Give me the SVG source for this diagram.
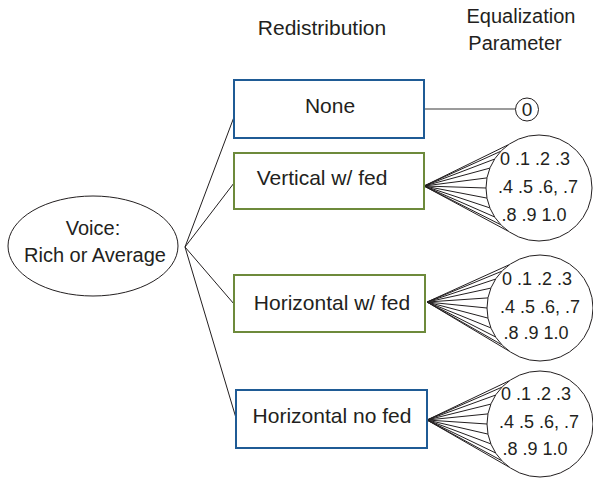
<svg xmlns="http://www.w3.org/2000/svg" width="593" height="479" viewBox="0 0 593 479">
<style>
text{font-family:"Liberation Sans",Arial,sans-serif;fill:#231f20}
.hdr{font-size:21px}
.hdr2{font-size:20px;text-anchor:middle}
.lbl{font-size:21px;text-anchor:middle}
.val{font-size:18px;text-anchor:middle}
.blue{fill:#fff;stroke:#1f5b95;stroke-width:2}
.green{fill:#fff;stroke:#6d8a3b;stroke-width:2}
.circ{fill:#fff;stroke:#231f20;stroke-width:1}
.ln{stroke:#231f20;stroke-width:1;fill:none}
.gray{stroke:#7a7a7a;stroke-width:1.5;fill:none}
</style>
<g id="headers">
<text class="hdr" x="322" y="35" text-anchor="middle">Redistribution</text>
<text class="hdr2" x="521" y="23">Equalization</text>
<text class="hdr2" x="515" y="50">Parameter</text>
</g>
<g id="connectors">
<path class="ln" d="M185,247 L234,117 M185,247 L234,183 M185,247 L234,304 M185,247 L236,418"/>
<path class="gray" d="M425,109 L516,109"/>
<path class="ln" d="M424,186 L508.6,144.6 M424,186 L500.9,151.2 M424,186 L494.5,159.1 M424,186 L489.9,168.1 M424,186 L487,177.9 M424,186 L486,188 M424,186 L487,198.1 M424,186 L489.9,207.9 M424,186 L494.5,216.9 M424,186 L500.9,224.8 M424,186 L508.6,231.4"/>
<path class="ln" d="M427,302 L509.6,264.6 M427,302 L501.9,271.2 M427,302 L495.5,279.1 M427,302 L490.9,288.1 M427,302 L488,297.9 M427,302 L487,308 M427,302 L488,318.1 M427,302 L490.9,327.9 M427,302 L495.5,336.9 M427,302 L501.9,344.8 M427,302 L509.6,351.4"/>
<path class="ln" d="M427,420 L509.6,380.6 M427,420 L501.9,387.2 M427,420 L495.5,395.1 M427,420 L490.9,404.1 M427,420 L488,413.9 M427,420 L487,424 M427,420 L488,434.1 M427,420 L490.9,443.9 M427,420 L495.5,452.9 M427,420 L501.9,460.8 M427,420 L509.6,467.4"/>
</g>
<g id="voice">
<ellipse class="circ" cx="93" cy="246" rx="85" ry="50"/>
<text x="93" y="235" font-size="20" text-anchor="middle">Voice:</text>
<text x="95" y="262" font-size="20" text-anchor="middle">Rich or Average</text>
</g>
<g id="none">
<rect class="blue" x="234" y="80" width="190" height="58"/>
<text class="lbl" x="330" y="113">None</text>
</g>
<g id="vertical">
<rect class="green" x="234" y="153" width="190" height="56"/>
<text class="lbl" x="322" y="185">Vertical w/ fed</text>
</g>
<g id="horizontal-fed">
<rect class="green" x="234" y="275" width="191" height="57"/>
<text class="lbl" x="332" y="310">Horizontal w/ fed</text>
</g>
<g id="horizontal-nofed">
<rect class="blue" x="236" y="390" width="191" height="58"/>
<text class="lbl" x="332" y="423">Horizontal no fed</text>
</g>
<g id="param-none">
<circle class="circ" cx="527" cy="109.5" r="11.5"/>
<text x="527" y="116" font-size="19" text-anchor="middle">0</text>
</g>
<g id="param-vertical">
<circle class="circ" cx="539" cy="188" r="53"/>
<text class="val" x="535" y="165">0 .1 .2 .3</text>
<text class="val" x="538" y="193">.4 .5 .6, .7</text>
<text class="val" x="534" y="221">.8 .9 1.0</text>
</g>
<g id="param-horizontal-fed">
<circle class="circ" cx="540" cy="308" r="53"/>
<text class="val" x="537" y="285">0 .1 .2 .3</text>
<text class="val" x="540" y="313">.4 .5 .6, .7</text>
<text class="val" x="536" y="339">.8 .9 1.0</text>
</g>
<g id="param-horizontal-nofed">
<circle class="circ" cx="540" cy="424" r="53"/>
<text class="val" x="536" y="400">0 .1 .2 .3</text>
<text class="val" x="539" y="428">.4 .5 .6, .7</text>
<text class="val" x="535" y="455">.8 .9 1.0</text>
</g>
</svg>
